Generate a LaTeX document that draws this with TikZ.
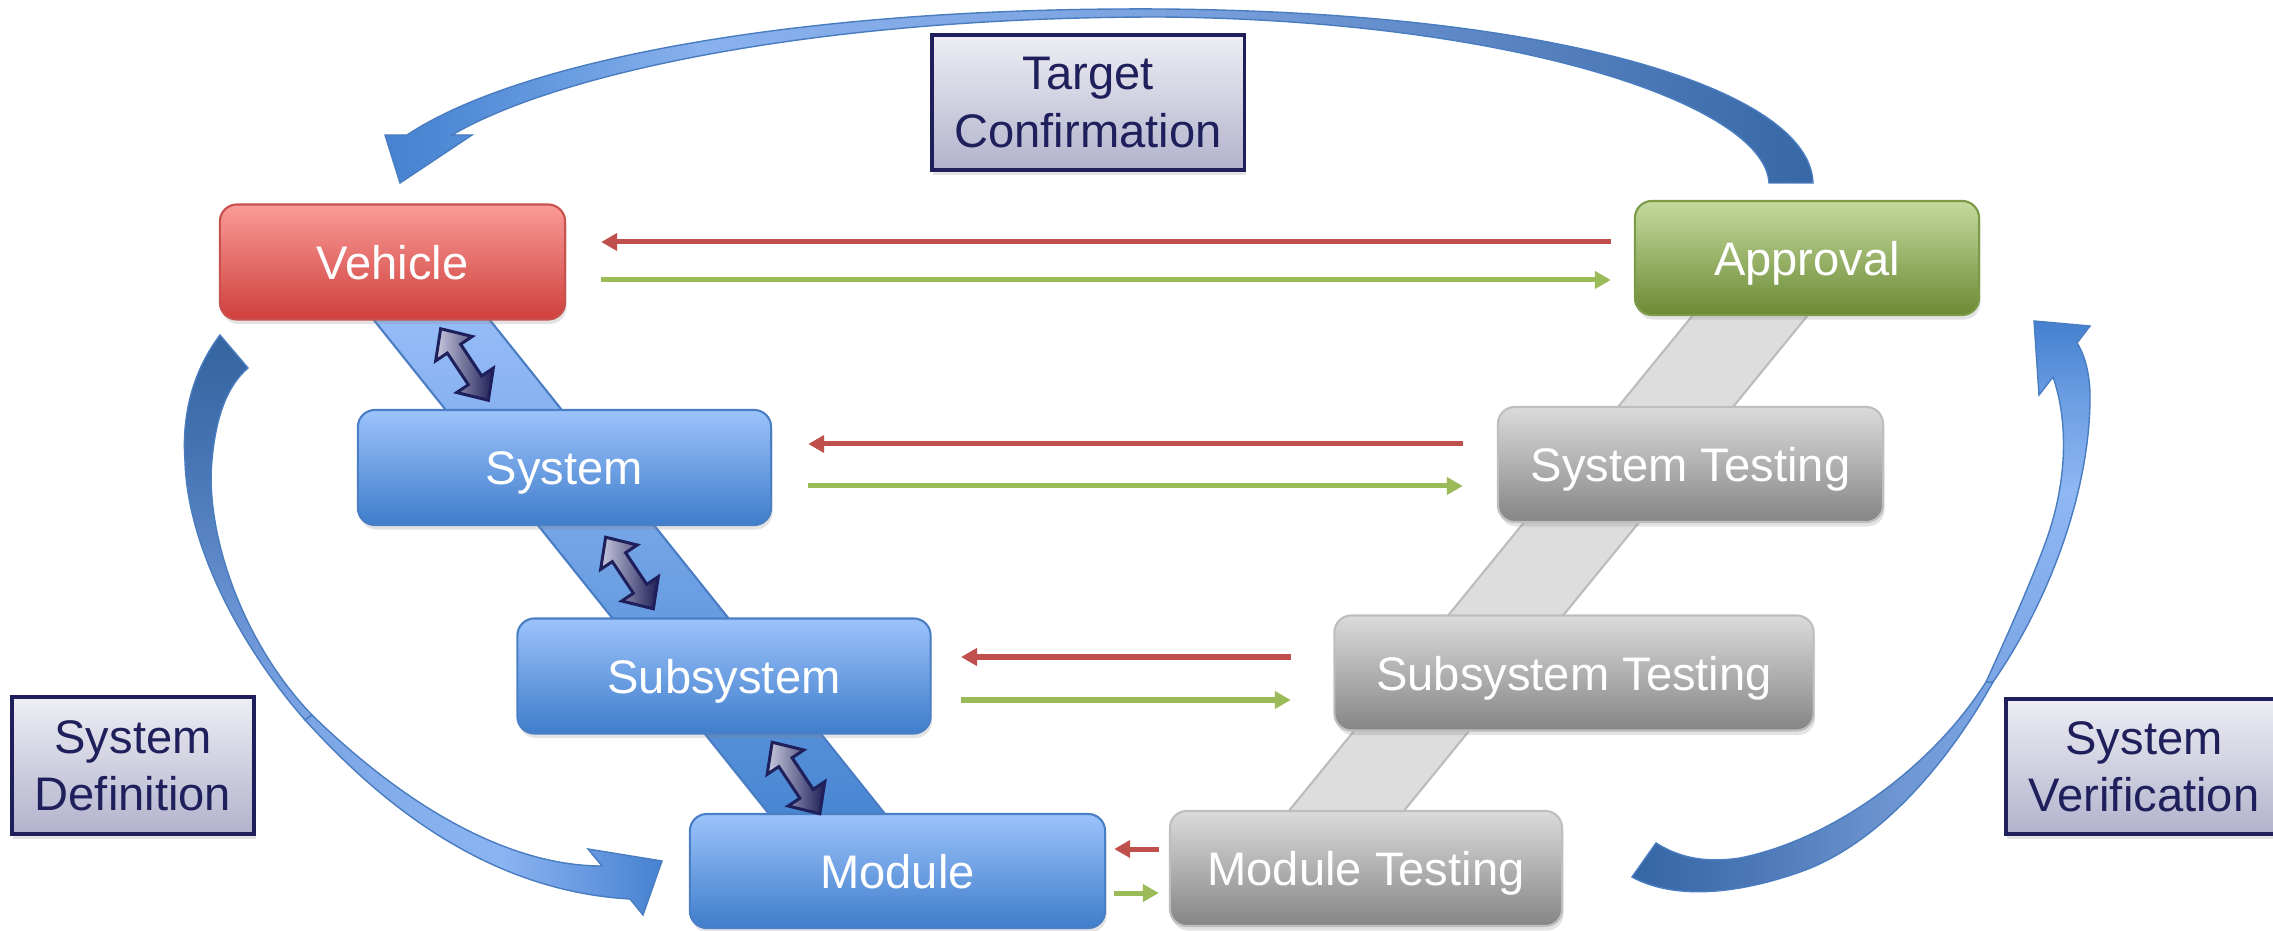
\documentclass[tikz,border=0pt]{standalone}
\usepackage{fontspec}
\setmainfont{Liberation Sans}
\usetikzlibrary{arrows.meta,shadows}

% box and arrow colours
\definecolor{redT}{HTML}{F99B98}
\definecolor{redB}{HTML}{CF3F3B}
\definecolor{redD}{HTML}{C8504D}
\definecolor{bluT}{HTML}{9CC3FB}
\definecolor{bluB}{HTML}{3F7DCB}
\definecolor{bluD}{HTML}{4A7FC6}
\definecolor{grnT}{HTML}{C5DA9E}
\definecolor{grnB}{HTML}{6B8A34}
\definecolor{grnD}{HTML}{7C9A48}
\definecolor{gryT}{HTML}{DBDBDB}
\definecolor{gryB}{HTML}{858585}
\definecolor{gryD}{HTML}{BEBEBE}
\definecolor{navy}{HTML}{1F1F5C}
\definecolor{labT}{HTML}{EEEEF4}
\definecolor{labB}{HTML}{B2B2CD}
\definecolor{arrRed}{HTML}{C0504D}
\definecolor{arrGrn}{HTML}{9BBB59}
\definecolor{bandT}{HTML}{98BEF8}
\definecolor{bandB}{HTML}{4080CE}
\definecolor{bandD}{HTML}{4A7DC4}
\definecolor{gband}{HTML}{DDDDDD}
\definecolor{gbandD}{HTML}{BCBCBC}
\definecolor{dblL}{HTML}{C9C9DF}
\definecolor{dblD}{HTML}{1D1D56}
\definecolor{arcEdge}{HTML}{4A7CC0}

% colours of the curved arrows
\definecolor{cA}{HTML}{4682D0}
\definecolor{cB}{HTML}{4F8AD6}
\definecolor{cC}{HTML}{88B1ED}
\definecolor{cD}{HTML}{7BA3E0}
\definecolor{cE}{HTML}{5A85C2}
\definecolor{cF}{HTML}{3767A6}
\definecolor{lu0}{HTML}{34659F}
\definecolor{lu1}{HTML}{4472B2}
\definecolor{lu2}{HTML}{6690D0}
\definecolor{lu3}{HTML}{7BA5E4}
\definecolor{ll1}{HTML}{86AFEE}
\definecolor{ll2}{HTML}{8BB4F2}
\definecolor{ll3}{HTML}{6A9BE2}
\definecolor{rl0}{HTML}{3465A4}
\definecolor{rl1}{HTML}{4B77B6}
\definecolor{rl2}{HTML}{6A93CE}
\definecolor{rl3}{HTML}{7CA6E4}
\definecolor{ru1}{HTML}{8EB7F4}
\definecolor{ru2}{HTML}{6C9EE3}
\definecolor{ru3}{HTML}{4580CF}

% shadings (the path bounding box spans 25bp..75bp)
\pgfdeclarehorizontalshading{toparcshade}{100bp}{color(0bp)=(cA); color(25bp)=(cA); color(27.3bp)=(cB); color(36bp)=(cC); color(52.1bp)=(cD); color(64bp)=(cE); color(75bp)=(cF); color(100bp)=(cF)}
\pgfdeclareverticalshading{leftupshade}{100bp}{color(0bp)=(lu3); color(25bp)=(lu3); color(40.6bp)=(lu2); color(60.1bp)=(lu1); color(75bp)=(lu0); color(100bp)=(lu0)}
\pgfdeclarehorizontalshading{leftlowshade}{100bp}{color(0bp)=(lu3); color(25bp)=(lu3); color(41.1bp)=(ll1); color(52.3bp)=(ll2); color(63.5bp)=(ll3); color(75bp)=(cA); color(100bp)=(cA)}
\pgfdeclarehorizontalshading{rightlowshade}{100bp}{color(0bp)=(rl0); color(25bp)=(rl0); color(41.3bp)=(rl1); color(59.3bp)=(rl2); color(75bp)=(rl3); color(100bp)=(rl3)}
\pgfdeclareverticalshading{rightupshade}{100bp}{color(0bp)=(rl3); color(25bp)=(rl3); color(51.6bp)=(ru1); color(64.1bp)=(ru2); color(75bp)=(ru3); color(100bp)=(ru3)}

\newcommand\boxfont{\fontsize{13.4}{16}\selectfont}
\newcommand\labfont{\fontsize{13.4}{16.3}\selectfont}
\newcommand\twowayat[1]{%
  \shadedraw[dblarrow, shift={(#1)}, rotate=-56.3]
    (-43,0) -- (-19,22) -- (-19,8) -- (19,8) -- (19,22) -- (43,0)
    -- (19,-22) -- (19,-8) -- (-19,-8) -- (-19,-22) -- cycle;}

\begin{document}
\begin{tikzpicture}[x=0.01cm,y=0.01cm,
  box/.style={rounded corners=0.17cm, minimum height=1.15cm, inner sep=0pt,
    text=white, font=\boxfont, text height=0.34cm, text depth=0cm, line width=0.6pt,
    drop shadow={shadow xshift=0.015cm, shadow yshift=-0.045cm, opacity=0.22}},
  redbox/.style={box, draw=redD, top color=redT, bottom color=redB},
  bluebox/.style={box, draw=bluD, top color=bluT, bottom color=bluB},
  greenbox/.style={box, draw=grnD, top color=grnT, bottom color=grnB},
  graybox/.style={box, draw=gryD, top color=gryT, bottom color=gryB},
  labelbox/.style={draw=navy, line width=0.9pt, top color=labT, bottom color=labB,
    text=navy, align=center, font=\labfont, inner sep=0pt,
    drop shadow={shadow xshift=0.015cm, shadow yshift=-0.05cm, opacity=0.22}},
  redarr/.style={draw=arrRed, line width=0.05cm, -{Triangle[length=0.16cm,width=0.17cm]}},
  grnarr/.style={draw=arrGrn, line width=0.05cm, -{Triangle[length=0.16cm,width=0.17cm]}},
  dblarrow/.style={draw=navy, line width=0.03cm, left color=dblL, right color=dblD},
  arcshape/.style={draw=arcEdge, line width=0.4pt},
]
\useasboundingbox (0,0) rectangle (2273,930);

% ---- curved arrows ----
% Target Confirmation arc
\shadedraw[arcshape, shading=toparcshade]
  (1813,747) .. controls (1810,840) and (1560,918) .. (1160,921)
  .. controls (800,923) and (520,870) .. (407,795)
  -- (385,795) -- (400,747) -- (472,795) -- (452,795)
  .. controls (560,858) and (820,913) .. (1160,913)
  .. controls (1515,910) and (1765,825) .. (1769,747) -- cycle;

% System Definition arc, upper part
\shadedraw[arcshape, shading=leftupshade]
  (220,595) .. controls (190,555) and (182,510) .. (185,469)
  .. controls (187,390) and (235,290) .. (305,210)
  -- (312,215)
  .. controls (240,290) and (205,400) .. (212,470)
  .. controls (216,515) and (228,545) .. (248,562) -- cycle;
% System Definition arc, lower part with head
\shadedraw[arcshape, shading=leftlowshade]
  (305,210) .. controls (360,150) and (470,40) .. (630,31)
  -- (643,15) -- (662,69) -- (588,81) -- (602,64)
  .. controls (520,64) and (420,110) .. (312,215) -- cycle;

% System Verification arc, lower part
\shadedraw[arcshape, shading=rightlowshade]
  (1632,53) .. controls (1665,35) and (1720,30) .. (1800,58)
  .. controls (1880,86) and (1950,170) .. (1993,248)
  -- (1986,248)
  .. controls (1930,160) and (1830,90) .. (1740,72)
  .. controls (1700,66) and (1675,75) .. (1656,87) -- cycle;
% System Verification arc, upper part with head
\shadedraw[arcshape, shading=rightupshade]
  (1993,248) .. controls (2050,330) and (2090,440) .. (2090,533)
  .. controls (2090,555) and (2085,575) .. (2077,587)
  -- (2090,604) -- (2034,609) -- (2039,535) -- (2053,553)
  .. controls (2068,510) and (2068,450) .. (2046,389)
  .. controls (2030,345) and (2005,290) .. (1986,248) -- cycle;

% ---- diagonal bands behind the boxes ----
\shadedraw[draw=bandD, line width=0.6pt, top color=bandT, bottom color=bandB]
  (357.8,630) -- (473.8,630) -- (929.8,60) -- (813.8,60) -- cycle;
\filldraw[draw=gbandD, line width=0.6pt, fill=gband]
  (1705.2,630) -- (1820.2,630) -- (1355.7,60) -- (1240.7,60) -- cycle;

% ---- stages ----
\node[redbox,   minimum width=3.45cm] (vehicle)   at (392.5,668)  {Vehicle};
\node[bluebox,  minimum width=4.13cm] (system)    at (564.5,462.5) {System};
\node[bluebox,  minimum width=4.13cm] (subsystem) at (724,254)    {Subsystem};
\node[bluebox,  minimum width=4.15cm, minimum height=1.14cm] (module) at (897.5,59) {Module};
\node[greenbox, minimum width=3.44cm, minimum height=1.14cm] (approval) at (1807,672) {Approval};
\node[graybox,  minimum width=3.85cm] (systest)   at (1690.5,465.5) {System Testing};
\node[graybox,  minimum width=4.79cm] (subtest)   at (1574,257)   {Subsystem Testing};
\node[graybox,  minimum width=3.92cm] (modtest)   at (1366,61.5)  {Module Testing};

% ---- two-way arrows between the definition levels ----
\twowayat{464.5,565.5}
\twowayat{629.5,357}
\twowayat{796,152}

% ---- feedback (red) and hand-over (green) arrows ----
\coordinate (r1) at (0,688); \coordinate (g1) at (0,650);
\coordinate (r2) at (0,486); \coordinate (g2) at (0,444);
\coordinate (r3) at (0,273); \coordinate (g3) at (0,230);
\coordinate (r4) at (0,81);  \coordinate (g4) at (0,37);
\draw[redarr, shorten <=0.23cm, shorten >=0.35cm] (approval.west |- r1) -- (vehicle.east |- r1);
\draw[grnarr, shorten <=0.35cm, shorten >=0.23cm] (vehicle.east |- g1) -- (approval.west |- g1);
\draw[redarr, shorten <=0.34cm, shorten >=0.36cm] (systest.west |- r2) -- (system.east |- r2);
\draw[grnarr, shorten <=0.36cm, shorten >=0.34cm] (system.east |- g2) -- (systest.west |- g2);
\draw[redarr, shorten <=0.425cm, shorten >=0.293cm] (subtest.west |- r3) -- (subsystem.east |- r3);
\draw[grnarr, shorten <=0.293cm, shorten >=0.425cm] (subsystem.east |- g3) -- (subtest.west |- g3);
\draw[redarr, shorten <=0.10cm, shorten >=0.08cm] (modtest.west |- r4) -- (module.east |- r4);
\draw[grnarr, shorten <=0.08cm, shorten >=0.10cm] (module.east |- g4) -- (modtest.west |- g4);

% ---- phase labels ----
\node[labelbox, minimum width=3.12cm, minimum height=1.35cm] (target) at (1088,827.5) {Target\\Confirmation};
\node[labelbox, minimum width=2.42cm, minimum height=1.37cm] (sysdef) at (133,164.5) {System\\Definition};
\node[labelbox, minimum width=2.76cm, minimum height=1.35cm] (sysver) at (2144,163.5) {System\\Verification};
\end{tikzpicture}
\end{document}
